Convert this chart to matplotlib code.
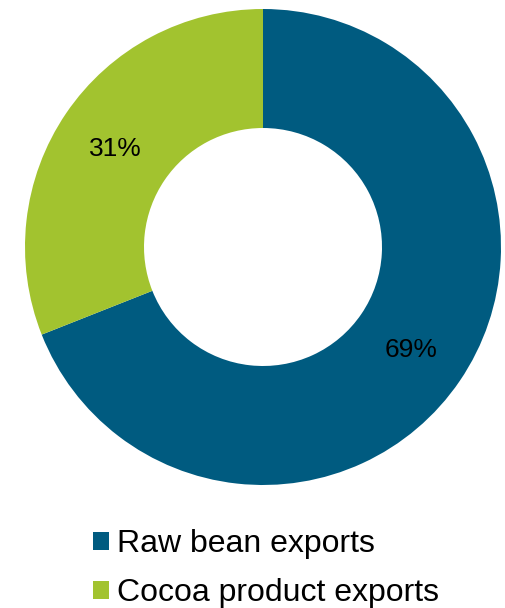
import numpy as np
import matplotlib.pyplot as plt
from matplotlib.patches import Patch

plt.rcParams['font.family'] = ['Liberation Sans', 'DejaVu Sans']

labels = ["Raw bean exports", "Cocoa product exports"]
shares = [69, 31]
colors = ["#005B80", "#A2C32F"]

fig = plt.figure(figsize=(5.06, 6.08), dpi=100)
ax = fig.add_axes([25/506, 123/608, 476/506, 476/608])

wedges, texts = ax.pie(shares, colors=colors, startangle=90, counterclock=False,
                       radius=1.0, wedgeprops=dict(width=0.5, linewidth=0))
for w, s in zip(wedges, shares):
    ang = np.deg2rad((w.theta1 + w.theta2) / 2)
    ax.text(0.75*np.cos(ang), 0.75*np.sin(ang) - 0.01, f"{s}%", ha='center', va='center',
            fontsize=19, color='black')
ax.set_xlim(-1, 1)
ax.set_ylim(-1, 1)
ax.set_aspect('equal')
ax.axis('off')

handles = [Patch(facecolor=c, edgecolor='none') for c in colors]
fig.legend(handles, labels, loc='upper left', bbox_to_anchor=(93/506, 1-529/608),
           frameon=False, fontsize=23, handlelength=0.5, handleheight=0.5,
           handletextpad=0.25, labelspacing=0.6, borderpad=0, borderaxespad=0)

fig.savefig("out.png", dpi=100)
